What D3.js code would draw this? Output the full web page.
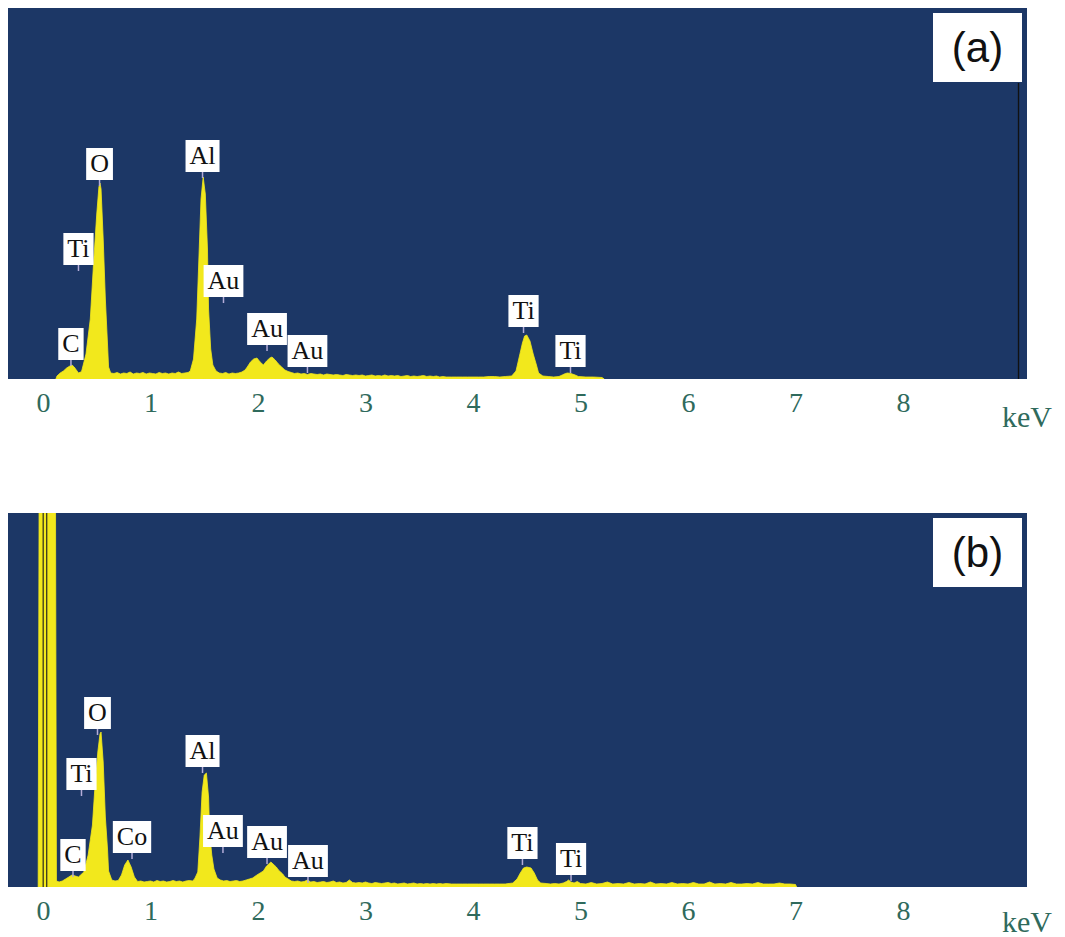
<!DOCTYPE html>
<html>
<head>
<meta charset="utf-8">
<script src="https://cdn.jsdelivr.net/npm/d3@7"></script>
<style>
  html, body { margin: 0; padding: 0; background: #ffffff; }
  svg { display: block; }
</style>
</head>
<body>
<svg id="chart" width="1065" height="937"></svg>
<script>
// ---------- data ----------
const energyTicks = [0, 1, 2, 3, 4, 5, 6, 7, 8];
const axisUnit = "keV";
const panelTags = ["(a)", "(b)"];

// spectrum (a): [energy keV, counts]
const spectrumA = [
  [0.12,0],[0.13,30],[0.16,60],[0.19,80],[0.22,110],[0.25,130],[0.27,140],[0.29,120],[0.31,90],[0.33,60],[0.35,70],
  [0.36,80],[0.40,250],[0.44,600],[0.47,1150],[0.50,1650],[0.52,1920],[0.53,1960],[0.54,1900],[0.56,1400],[0.58,800],[0.60,350],[0.61,120],[0.63,60],
  [0.66,55],[0.69,65],[0.72,50],[0.75,60],[0.78,55],[0.81,70],[0.84,50],[0.87,60],[0.90,55],[0.93,65],[0.96,50],[0.99,60],
  [1.02,55],[1.05,50],[1.08,65],[1.11,55],[1.14,60],[1.17,50],[1.20,60],[1.23,55],[1.26,70],[1.29,55],[1.32,60],[1.35,65],[1.37,80],
  [1.40,200],[1.43,600],[1.45,1200],[1.47,1800],[1.49,2020],[1.51,1850],[1.53,1300],[1.54,700],[1.56,300],[1.58,140],[1.61,80],
  [1.64,60],[1.67,55],[1.70,65],[1.73,50],[1.76,60],[1.79,55],[1.82,60],[1.85,70],[1.88,90],[1.90,120],
  [1.93,170],[1.96,200],[1.99,210],[2.02,170],[2.05,140],[2.08,180],[2.11,210],[2.13,220],[2.16,190],[2.19,150],[2.22,120],[2.25,90],[2.28,75],
  [2.31,65],[2.34,55],[2.37,60],[2.40,50],[2.43,55],[2.46,45],[2.49,55],[2.52,50],[2.55,45],[2.58,50],[2.61,40],[2.64,50],[2.67,45],
  [2.70,40],[2.73,45],[2.76,40],[2.79,35],[2.82,45],[2.85,40],[2.88,35],[2.91,40],[2.94,35],[2.97,40],[3.00,30],[3.03,35],[3.06,40],
  [3.09,30],[3.12,35],[3.15,30],[3.18,40],[3.21,30],[3.24,35],[3.27,30],[3.30,35],[3.33,25],[3.36,30],[3.39,35],[3.42,25],[3.45,30],
  [3.48,25],[3.51,30],[3.54,35],[3.57,25],[3.60,30],[3.63,25],[3.66,30],[3.69,20],[3.72,25],[3.75,20],[3.80,20],[3.85,20],[3.90,20],
  [3.95,20],[4.00,20],[4.05,20],[4.10,20],[4.15,25],[4.20,25],[4.25,20],[4.30,25],
  [4.36,30],[4.40,80],[4.43,220],[4.46,360],[4.48,430],[4.50,440],[4.53,380],[4.56,250],[4.59,140],[4.61,60],[4.65,30],
  [4.70,25],[4.75,20],[4.80,25],[4.83,40],[4.86,55],[4.88,60],[4.91,55],[4.95,40],[4.98,25],
  [5.05,20],[5.12,20],[5.20,15],[5.22,0]
];

// spectrum (b): [energy keV, counts]
const spectrumB = [
  [-0.045,0],[-0.035,4500],[0.115,4500],[0.125,60],
  [0.15,50],[0.18,60],[0.21,80],[0.24,100],[0.27,120],[0.30,110],[0.33,100],[0.35,120],
  [0.38,150],[0.42,320],[0.46,620],[0.48,950],[0.51,1350],[0.53,1530],[0.54,1550],[0.56,1250],[0.58,700],[0.60,380],[0.61,160],[0.64,70],
  [0.67,60],[0.70,65],[0.73,120],[0.76,220],[0.79,270],[0.82,200],[0.85,100],[0.88,55],
  [0.91,60],[0.94,50],[0.97,55],[1.00,60],[1.03,50],[1.06,65],[1.09,55],[1.12,60],[1.15,50],[1.18,55],[1.21,65],[1.24,55],
  [1.27,60],[1.30,50],[1.33,60],[1.36,65],[1.39,60],
  [1.41,80],[1.44,150],[1.46,500],[1.48,950],[1.50,1120],[1.52,1140],[1.54,900],[1.55,550],[1.57,320],[1.59,180],[1.62,90],
  [1.65,70],[1.68,60],[1.71,65],[1.74,55],[1.77,60],[1.80,65],[1.83,55],[1.86,60],[1.89,70],[1.92,80],
  [1.95,90],[1.99,120],[2.02,140],[2.05,160],[2.08,210],[2.10,230],[2.12,250],[2.15,220],[2.17,200],[2.19,170],[2.21,150],[2.23,130],[2.25,100],[2.28,80],[2.31,60],
  [2.34,55],[2.37,60],[2.40,50],[2.43,55],[2.46,70],[2.49,50],[2.52,55],[2.55,45],[2.58,50],[2.61,55],[2.64,45],[2.67,50],
  [2.70,60],[2.73,45],[2.76,50],[2.79,40],[2.82,45],[2.85,70],[2.88,45],[2.91,40],[2.94,45],[2.97,40],[3.00,50],[3.03,40],
  [3.06,35],[3.09,45],[3.12,40],[3.15,35],[3.18,40],[3.21,45],[3.24,35],[3.27,40],[3.30,30],[3.33,35],[3.36,40],[3.39,30],
  [3.42,35],[3.45,40],[3.48,30],[3.51,35],[3.54,30],[3.57,35],[3.60,30],[3.63,35],[3.66,30],[3.69,35],[3.72,30],[3.75,35],
  [3.80,30],[3.85,30],[3.90,30],[3.95,30],[4.00,30],[4.05,30],[4.10,30],[4.15,30],[4.20,30],[4.25,30],[4.30,30],
  [4.37,40],[4.41,80],[4.44,140],[4.47,190],[4.50,200],[4.54,190],[4.57,140],[4.60,70],[4.63,40],
  [4.68,35],[4.72,30],[4.76,35],[4.80,30],[4.84,40],[4.87,55],[4.89,70],[4.91,50],[4.94,40],[4.97,55],[5.00,35],
  [5.05,30],[5.10,45],[5.15,30],[5.20,35],[5.25,50],[5.30,30],[5.35,35],[5.40,30],[5.45,45],[5.50,30],[5.55,35],[5.60,30],
  [5.65,50],[5.70,30],[5.75,35],[5.80,30],[5.85,45],[5.90,30],[5.95,35],[6.00,30],[6.05,45],[6.10,30],[6.15,30],[6.20,50],
  [6.25,30],[6.30,35],[6.35,30],[6.40,45],[6.45,30],[6.50,30],[6.55,35],[6.60,30],[6.65,45],[6.70,30],[6.75,30],[6.80,30],
  [6.85,40],[6.90,30],[6.95,30],[7.00,25],[7.01,0]
];

// peak labels: element, energy of label centre (keV), counts at label bottom
const labelsA = [
  ["C", 0.26, 190], ["Ti", 0.33, 1140], ["O", 0.526, 1990], ["Al", 1.484, 2070],
  ["Au", 1.679, 820], ["Au", 2.084, 340], ["Au", 2.46, 120], ["Ti", 4.47, 520], ["Ti", 4.907, 120]
];
const labelsB = [
  ["C", 0.279, 160], ["Ti", 0.358, 970], ["O", 0.507, 1580], ["Co", 0.828, 340], ["Al", 1.484, 1200],
  ["Au", 1.674, 400], ["Au", 2.084, 290], ["Au", 2.465, 100], ["Ti", 4.46, 280], ["Ti", 4.912, 120]
];

// ---------- drawing ----------
const svg = d3.select("#chart");
const NAVY = "#1c3766", YELLOW = "#f2e81c", TICK = "#2f6a5c";

const panels = [
  { spectrum: spectrumA, labels: labelsA, tag: panelTags[0], top: 8, bottom: 379, countsMax: 3710, rightLine: true },
  { spectrum: spectrumB, labels: labelsB, tag: panelTags[1], top: 513, bottom: 887, countsMax: 3740, rightLine: false }
];
const plotLeft = 8, plotRight = 1027;
const x = d3.scaleLinear().domain([0, 8]).range([43, 903]);

panels.forEach((p, i) => {
  const y = d3.scaleLinear().domain([0, p.countsMax]).range([p.bottom, p.top]);
  const g = svg.append("g");

  g.append("rect").attr("x", plotLeft).attr("y", p.top)
    .attr("width", plotRight - plotLeft).attr("height", p.bottom - p.top)
    .attr("fill", NAVY);

  const clipId = "clip" + i;
  svg.append("clipPath").attr("id", clipId).append("rect")
    .attr("x", plotLeft).attr("y", p.top)
    .attr("width", plotRight - plotLeft).attr("height", p.bottom - p.top);

  const area = d3.area().x(d => x(d[0])).y0(y(0)).y1(d => y(d[1]));
  g.append("path").datum(p.spectrum).attr("clip-path", `url(#${clipId})`)
    .attr("d", area).attr("fill", YELLOW).attr("stroke", YELLOW).attr("stroke-width", 0.8);

  if (i === 1) {
    // dark double line on the zero-energy spike
    [-0.003, 0.03].forEach(e => {
      g.append("line").attr("x1", x(e) + 0.5).attr("x2", x(e) + 0.5)
        .attr("y1", p.top).attr("y2", p.bottom)
        .attr("stroke", "#2a2a20").attr("stroke-width", 1.2);
    });
  }

  if (p.rightLine) {
    g.append("line").attr("x1", 1018.5).attr("x2", 1018.5)
      .attr("y1", p.top + 75).attr("y2", p.bottom)
      .attr("stroke", "#111").attr("stroke-width", 1.3);
  }

  // peak labels
  p.labels.forEach(([el, e, c]) => {
    const cx = x(e), by = y(c);
    const t = g.append("text").text(el)
      .attr("font-family", "'Liberation Serif', 'Times New Roman', serif")
      .attr("font-size", 26).attr("fill", "#111").attr("text-anchor", "middle")
      .attr("x", cx).attr("y", by - 8);
    const w = t.node().getComputedTextLength() + 8;
    g.insert("rect", () => t.node())
      .attr("x", cx - w / 2).attr("y", by - 32).attr("width", w).attr("height", 32)
      .attr("fill", "#ffffff");
    g.append("line").attr("x1", cx).attr("x2", cx).attr("y1", by).attr("y2", by + 6)
      .attr("stroke", "#b4acd8").attr("stroke-width", 1.5);
  });

  // panel tag
  const tagTop = i === 0 ? 13 : 518;
  g.append("rect").attr("x", 933).attr("y", tagTop).attr("width", 89).attr("height", 69)
    .attr("fill", "#ffffff");
  g.append("text").text(p.tag)
    .attr("font-family", "'Liberation Sans', Arial, sans-serif").attr("font-size", 42)
    .attr("fill", "#111").attr("text-anchor", "middle")
    .attr("x", 977.5).attr("y", tagTop + 49);

  // axis
  const axis = d3.axisBottom(x).tickValues(energyTicks).tickSize(0).tickPadding(13)
    .tickFormat(d3.format("d"));
  const ax = svg.append("g").attr("transform", `translate(0,${p.bottom})`).call(axis);
  ax.select(".domain").remove();
  ax.selectAll("text")
    .attr("font-family", "'Liberation Serif', 'Times New Roman', serif")
    .attr("font-size", 28).attr("fill", TICK);

  svg.append("text").text(axisUnit)
    .attr("font-family", "'Liberation Serif', 'Times New Roman', serif")
    .attr("font-size", 30).attr("fill", TICK)
    .attr("x", 1002).attr("y", p.bottom + (i === 0 ? 48 : 45));
});
</script>
</body>
</html>
